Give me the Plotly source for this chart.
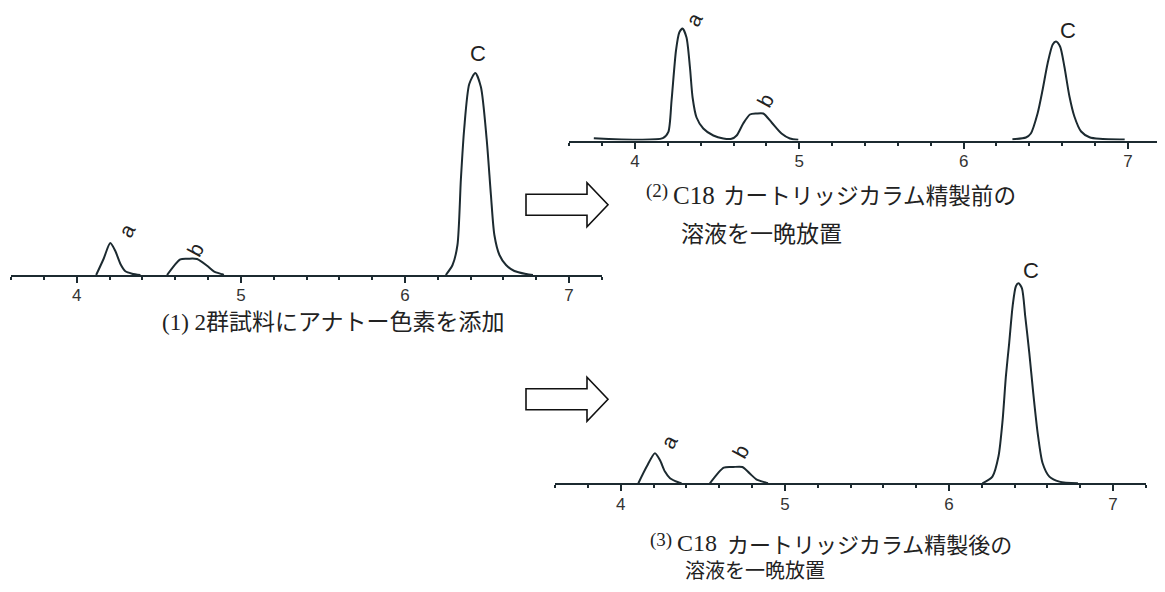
import plotly.graph_objects as go

W, H = 1165, 592          # page size
OFF = 8                    # default page margin around the plot div
FW, FH = W - OFF, H - 2 * OFF

# ---------------- data (retention time [min], detector response) ----------------
# Panel (1): 2群試料にアナトー色素を添加
p1_a_x = [4.118, 4.163, 4.204, 4.235, 4.266, 4.296, 4.337, 4.388]
p1_a_y = [0, 16, 32, 24, 11, 3.7, 1.3, 0]
p1_b_x = [4.55, 4.631, 4.68, 4.733, 4.794, 4.835, 4.886, 4.896]
p1_b_y = [0, 15.7, 16.3, 16, 9.3, 3.7, 0.7, 0]
p1_c_x = [6.249, 6.29, 6.32, 6.341, 6.361, 6.392, 6.429, 6.463, 6.498, 6.524,
          6.545, 6.576, 6.616, 6.667, 6.739, 6.78]
p1_c_y = [0, 10, 30, 96, 146, 191, 202, 188, 136, 80, 40, 20, 10, 4, 1, 0]

# Panel (2): C18カートリッジカラム精製前の溶液を一晩放置
p2_ab_x = [3.75, 4.17, 4.203, 4.223, 4.25, 4.27, 4.29, 4.314, 4.335, 4.351, 4.375,
           4.416, 4.477, 4.538, 4.588, 4.619, 4.659, 4.70, 4.74, 4.781, 4.832,
           4.892, 4.943, 4.994]
p2_ab_y = [2.3, 2.3, 8.3, 40, 90, 108, 112, 103, 73, 43, 23, 12, 5, 2, 1.7, 5, 17,
           26, 27, 27, 18, 7, 2, 0.7]
p2_c_x = [6.297, 6.379, 6.409, 6.45, 6.481, 6.511, 6.542, 6.562, 6.587, 6.613,
          6.644, 6.674, 6.715, 6.766, 6.827, 6.98]
p2_c_y = [1.3, 3, 7, 27, 51, 77, 96, 99, 94, 74, 44, 24, 9, 3.3, 1.7, 1]

# Panel (3): C18カートリッジカラム精製後の溶液を一晩放置
p3_a_x = [4.107, 4.158, 4.208, 4.239, 4.269, 4.30, 4.35, 4.37]
p3_a_y = [0, 16.7, 30, 23, 11.7, 5, 1, 0]
p3_b_x = [4.543, 4.628, 4.685, 4.741, 4.785, 4.826, 4.877, 4.897]
p3_b_y = [0, 15.7, 16.3, 16.3, 10, 4, 1, 0]
p3_c_x = [6.204, 6.265, 6.302, 6.327, 6.347, 6.367, 6.388, 6.408, 6.424, 6.445,
          6.465, 6.49, 6.514, 6.541, 6.571, 6.612, 6.673, 6.786]
p3_c_y = [0, 6.7, 27, 63, 107, 140, 177, 197, 200, 195, 167, 130, 90, 50, 20,
          6.7, 1.7, 0]

tick_vals = [4, 5, 6, 7]
tick_text = ["4", "5", "6", "7"]
peak_names = ["a", "b", "C"]

caption1 = "(1) 2群試料にアナトー色素を添加"
caption2_num, caption2_c18, caption2_rest = "(2)", "C18", "カートリッジカラム精製前の"
caption3_num, caption3_c18, caption3_rest = "(3)", "C18", "カートリッジカラム精製後の"
caption_line2 = "溶液を一晩放置"

# ---------------- helpers ----------------
LINE = "#1c2a30"
TXT = "#222222"


def px(x):
    return min(max((x - OFF) / FW, 0), 1)


def py(y):
    return min(max(1 - (y - OFF) / FH, 0), 1)


def join(*segs):
    xs, ys = [], []
    for sx, sy in segs:
        if xs:
            xs.append(None)
            ys.append(None)
        xs += sx
        ys += sy
    return xs, ys


fig = go.Figure()

panels = [
    dict(xl=11, xr=602, yb=275, yt=45, ymax=230,
         segs=[(p1_a_x, p1_a_y), (p1_b_x, p1_b_y), (p1_c_x, p1_c_y)]),
    dict(xl=569, xr=1161, yb=140.5, yt=9, ymax=131.5,
         segs=[(p2_ab_x, p2_ab_y), (p2_c_x, p2_c_y)]),
    dict(xl=555, xr=1146, yb=483.3, yt=260, ymax=223.3,
         segs=[(p3_a_x, p3_a_y), (p3_b_x, p3_b_y), (p3_c_x, p3_c_y)]),
]

for i, p in enumerate(panels, start=1):
    sfx = "" if i == 1 else str(i)
    xs, ys = join(*p["segs"])
    fig.add_trace(go.Scatter(
        x=xs, y=ys, mode="lines", xaxis="x" + sfx, yaxis="y" + sfx,
        line=dict(color=LINE, width=2, shape="spline", smoothing=0.7),
        connectgaps=False, showlegend=False, hoverinfo="skip", cliponaxis=False))
    fig.update_layout(**{
        "xaxis" + sfx: dict(
            domain=[px(p["xl"]), px(p["xr"])], range=[3.599, 7.201],
            anchor="y" + sfx, showline=True, linecolor=LINE, linewidth=2,
            showgrid=False, zeroline=False, ticks="outside", ticklen=6,
            tickwidth=2, tickcolor=LINE, tickvals=tick_vals, ticktext=tick_text,
            tickfont=dict(family="Liberation Sans, Arial, sans-serif", size=17,
                          color="#333333"),
            ticklabelstandoff=-2,
            minor=dict(dtick=0.2, tick0=0, ticks="outside", ticklen=3,
                       tickwidth=1.5, tickcolor=LINE, showgrid=False),
            fixedrange=True),
        "yaxis" + sfx: dict(
            domain=[py(p["yb"]), py(p["yt"])], range=[0, p["ymax"]],
            visible=False, fixedrange=True),
    })

# peak labels (data coordinates of each panel)
label_pos = [
    ("x", "y", [(4.305, 44.3), (4.721, 26), (6.446, 222)]),
    ("x2", "y2", [(4.359, 121), (4.791, 40.5), (6.634, 110.5)]),
    ("x3", "y3", [(4.294, 41.6), (4.73, 31.6), (6.501, 213.3)]),
]
ann = []
for xr, yr, pts in label_pos:
    for name, (lx, ly) in zip(peak_names, pts):
        ann.append(dict(
            x=lx, y=ly, xref=xr, yref=yr, text=name, showarrow=False,
            textangle=0 if name == "C" else -62,
            font=dict(family="Liberation Sans, Arial, sans-serif",
                      size=22 if name == "C" else 21, color=TXT),
            xanchor="center", yanchor="middle"))

SERIF = "Liberation Serif, Noto Sans CJK JP, serif"
CJK = "Noto Sans CJK JP, sans-serif"


def cap(text, x, y, size, family=SERIF, anchor="left"):
    ann.append(dict(x=px(x), y=py(y), xref="paper", yref="paper", text=text,
                    showarrow=False, xanchor=anchor, yanchor="middle",
                    font=dict(family=family, size=size, color=TXT)))


cap(caption1, 334, 322, 23, anchor="center")

for (num, c18, rest), dx, y1, dy_c, c_size, y2, s1, s2 in [
        ((caption2_num, caption2_c18, caption2_rest), 0, 194, 2, 25, 232, 22.6, 23),
        ((caption3_num, caption3_c18, caption3_rest), 4, 543, 0, 24, 569.5, 22, 20)]:
    cap(num, 644 + dx, y1 - 3, 19)
    cap(c18, 671 + dx, y1 + dy_c, c_size)
    cap(rest, 721 + dx, y1, s1, family=CJK)
    cap(caption_line2, 679 + dx, y2, s2, family=CJK)

fig.update_layout(annotations=ann)


# block arrows (decorative)
def arrow(cy):
    pts = [(526, cy - 10.5), (587, cy - 10.5), (587, cy - 22), (608, cy),
           (587, cy + 22), (587, cy + 10.5), (526, cy + 10.5)]
    path = "M " + " L ".join(f"{px(a):.5f},{py(b):.5f}" for a, b in pts) + " Z"
    return dict(type="path", xref="paper", yref="paper", path=path,
                line=dict(color="#111111", width=1.6), fillcolor="white")


fig.update_layout(shapes=[arrow(204.7), arrow(399.3)])

fig.update_layout(width=FW, height=FH, autosize=False,
                  margin=dict(l=0, r=0, t=0, b=0),
                  paper_bgcolor="white", plot_bgcolor="rgba(0,0,0,0)")

fig.write_html("out.html")
